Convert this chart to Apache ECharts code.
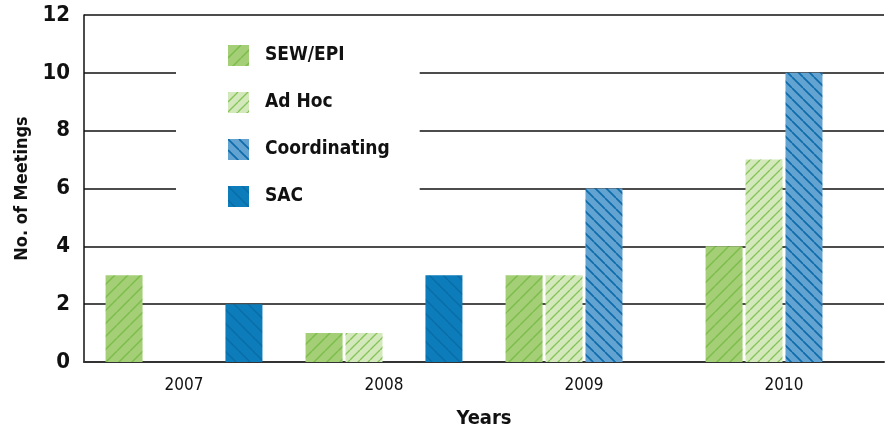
<!DOCTYPE html>
<html>
<head>
<meta charset="utf-8">
<script src="https://cdn.jsdelivr.net/npm/echarts@6/dist/echarts.min.js"></script>
<style>
  html, body { margin: 0; padding: 0; background: #fff; }
  #chart { width: 891px; height: 430px; }
</style>
</head>
<body>
<div id="chart"></div>
<script>
const years = ['2007', '2008', '2009', '2010']
const sewEpi = [3, 1, 3, 4]
const adHoc = [0, 1, 3, 7]
const coordinating = [0, 0, 6, 10]
const sac = [2, 3, 0, 0]

const FONT = "'Liberation Sans Narrow', 'DejaVu Sans Condensed', sans-serif"

// small tile with diagonal lines, used as bar fill
function hatch (bg, fg, size, back, lw) {
  const c = document.createElement('canvas')
  c.width = c.height = size
  const ctx = c.getContext('2d')
  ctx.fillStyle = bg
  ctx.fillRect(0, 0, size, size)
  ctx.strokeStyle = fg
  ctx.lineWidth = lw
  ctx.beginPath()
  for (const o of [-size, 0, size]) {
    if (back) {
      ctx.moveTo(o, 0)
      ctx.lineTo(o + size, size)
    } else {
      ctx.moveTo(o, size)
      ctx.lineTo(o + size, 0)
    }
  }
  ctx.stroke()
  return { image: c, repeat: 'repeat' }
}

const fills = [
  hatch('#a4cf76', '#7dbd4c', 13, false, 1.5),
  hatch('#d4e9bb', '#86c45a', 10, false, 1.4),
  hatch('#62a3d1', '#0e6cab', 11, true, 1.7),
  hatch('#0c7cba', '#0a6ca6', 14, true, 1.3)
]

const names = ['SEW/EPI', 'Ad Hoc', 'Coordinating', 'SAC']
const values = [sewEpi, adHoc, coordinating, sac]

const series = names.map((name, i) => ({
  name,
  type: 'bar',
  data: values[i],
  barWidth: 37,
  barGap: '8%',
  itemStyle: { color: fills[i] },
  z: 3
}))

const chart = echarts.init(document.getElementById('chart'))
chart.setOption({
  animation: false,
  grid: { left: 84, right: 7, top: 15, bottom: 68, outerBoundsMode: 'none' },
  legend: {
    orient: 'vertical',
    left: 176,
    top: 40,
    backgroundColor: '#fff',
    padding: [5, 30, 18, 52],
    itemWidth: 21,
    itemHeight: 21,
    itemGap: 26,
    icon: 'rect',
    z: 2,
    textStyle: {
      fontFamily: FONT,
      fontWeight: 'bold',
      fontSize: 19,
      color: '#111',
      padding: [0, 0, 0, 11]
    },
    data: names
  },
  xAxis: {
    type: 'category',
    data: years,
    name: 'Years',
    nameLocation: 'middle',
    nameGap: 47,
    nameTextStyle: { fontFamily: FONT, fontWeight: 'bold', fontSize: 20, color: '#111' },
    axisLine: { lineStyle: { color: '#333', width: 2 } },
    axisTick: { inside: true, length: 10, lineStyle: { color: '#222', width: 1.5 } },
    axisLabel: { fontFamily: FONT, fontSize: 17, color: '#111', margin: 15 }
  },
  yAxis: {
    type: 'value',
    min: 0,
    max: 12,
    interval: 2,
    name: 'No. of Meetings',
    nameLocation: 'middle',
    nameGap: 46,
    nameTextStyle: { fontFamily: FONT, fontWeight: 'bold', fontSize: 18, color: '#111' },
    axisLine: { show: true, lineStyle: { color: '#111', width: 1.5 } },
    axisTick: { show: false },
    axisLabel: { fontFamily: FONT, fontWeight: 'bold', fontSize: 22, color: '#111', margin: 14 },
    splitLine: { lineStyle: { color: '#111', width: 1.5 } }
  },
  series
})
</script>
</body>
</html>
